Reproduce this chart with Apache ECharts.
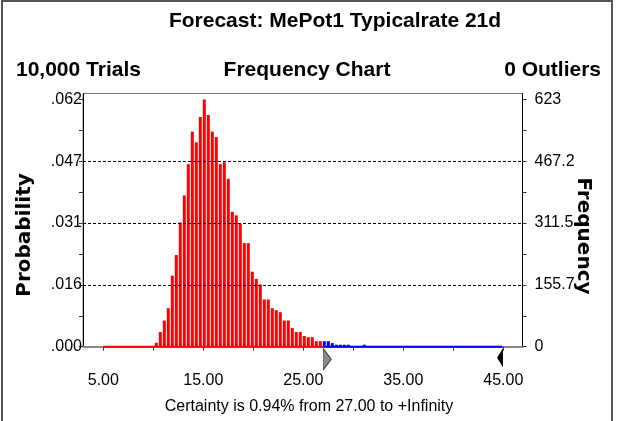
<!DOCTYPE html>
<html>
<head>
<meta charset="utf-8">
<script src="https://cdn.jsdelivr.net/npm/echarts@6/dist/echarts.min.js"></script>
<style>
html,body{margin:0;padding:0;background:#fff;}
#chart{width:634px;height:421px;}
</style>
</head>
<body>
<div id="chart"></div>
<script>
// ---- data ----
const forecastName = 'MePot1 Typicalrate 21d';
const trials = 10000;
const outliers = 0;
const binStart = 10.2;     // lower edge of first non-empty bin
const binWidth = 0.4;
const displayMin = 5.0;
const displayMax = 45.0;
const certaintyFrom = 27.00;
const certaintyPct = 0.94;
// frequencies per bin (bins of 0.4 starting at 10.2)
const redCounts = [10, 37, 66, 97, 179, 231, 313, 381, 460, 542,
                   515, 579, 623, 584, 542, 528, 460, 465, 423, 340,
                   331, 309, 261, 261, 189, 171, 157, 119, 119, 97,
                   92, 87, 66, 66, 47, 37, 37, 27, 24, 24,
                   14, 14];
const blueCounts = [14, 14, 9, 5, 5, 5, 5, 0, 0, 0, 5];
const xLabelValues = [5, 15, 25, 35, 45];
const xTickValues = [5, 10, 15, 20, 25, 30, 35, 40, 45];
const freqTickValues = [0, 155.75, 311.5, 467.25, 623];
const freqTickLabels = ['0', '155.7', '311.5', '467.2', '623'];
const probTickLabels = ['.000', '.016', '.031', '.047', '.062'];
const gridValues = [155.75, 311.5, 467.25];

// ---- build ----
const counts = redCounts.concat(blueCounts);
const RED = '#ff0000', BLUE = '#0000ff';
const barData = counts.map((c, i) => {
  const lo = binStart + i * binWidth;
  return {
    value: [lo + binWidth / 4, c],
    itemStyle: { color: lo >= certaintyFrom - 1e-6 ? BLUE : RED }
  };
});
const minorTicks = [];
for (let i = 0; i < freqTickValues.length - 1; i++) {
  minorTicks.push(freqTickValues[i]);
  minorTicks.push((freqTickValues[i] + freqTickValues[i + 1]) / 2);
}
minorTicks.push(freqTickValues[freqTickValues.length - 1]);
const labelIdx = v => freqTickValues.findIndex(t => Math.abs(t - v) < 1e-6);

const FONT = '"Liberation Sans", Arial, sans-serif';
const AXFONT = '"DejaVu Sans", Verdana, sans-serif';

const chart = echarts.init(document.getElementById('chart'), null, { renderer: 'canvas' });
const yMax = 638;
const yBase = {
  type: 'value', min: 0, max: yMax,
  splitLine: { show: false },
  axisLine: { show: true, lineStyle: { color: '#000', width: 1 } },
  axisTick: { show: true, length: 4, customValues: minorTicks, lineStyle: { color: '#333' } },
};
chart.setOption({
  animation: false,
  backgroundColor: '#fff',
  grid: { left: 83, right: 111.5, top: 93.5, bottom: 74.3, show: true, borderColor: '#777', borderWidth: 1, backgroundColor: 'transparent' },
  xAxis: {
    type: 'value', min: 2.97, max: 46.92,
    splitLine: { show: false },
    axisLine: { show: true, lineStyle: { color: '#888', width: 2 } },
    axisTick: { show: true, length: 4, customValues: xTickValues, lineStyle: { color: '#333' } },
    axisLabel: { customValues: xLabelValues, formatter: v => v.toFixed(2), margin: 26,
      fontFamily: FONT, fontSize: 16, color: '#000' }
  },
  yAxis: [
    Object.assign({}, yBase, {
      position: 'left',
      axisLabel: { customValues: freqTickValues, margin: 1, fontFamily: FONT, fontSize: 16, color: '#000',
        formatter: v => probTickLabels[labelIdx(v)] }
    }),
    Object.assign({}, yBase, {
      position: 'right',
      axisLabel: { customValues: freqTickValues, margin: 12, fontFamily: FONT, fontSize: 16, color: '#000',
        formatter: v => freqTickLabels[labelIdx(v)] }
    })
  ],
  series: [
    {
      type: 'bar', name: 'freq', yAxisIndex: 1, barWidth: 3,
      data: barData,
      markLine: {
        silent: true, symbol: 'none', label: { show: false },
        lineStyle: { color: '#000', type: [3, 2], width: 1 },
        data: gridValues.map(v => ({ yAxis: v }))
      },
      markPoint: {
        silent: true, label: { show: false },
        data: [
          { coord: [certaintyFrom, 0], symbol: 'path://M0,0 L8,10.5 L0,21 Z', symbolSize: [8, 21], symbolOffset: [4, 12.5], symbolKeepAspect: false,
            itemStyle: { color: '#8c8c8c', borderColor: '#444', borderWidth: 1 } },
          { coord: [displayMax, 0], symbol: 'path://M6,0 L0,9.5 L6,19 Z', symbolSize: [6, 19], symbolOffset: [-3.3, 11], symbolKeepAspect: false,
            itemStyle: { color: '#000' } }
        ]
      }
    },
    {
      type: 'line', yAxisIndex: 1, clip: false, symbol: 'none', silent: true,
      lineStyle: { color: RED, width: 2 },
      data: [[displayMin, 0], [certaintyFrom, 0]]
    },
    {
      type: 'line', yAxisIndex: 1, clip: false, symbol: 'none', silent: true,
      lineStyle: { color: BLUE, width: 2 },
      data: [[certaintyFrom, 0], [displayMax - 0.1, 0]]
    }
  ],
  graphic: [
    { type: 'rect', shape: { x: 2, y: 1, width: 610, height: 440 }, style: { fill: 'none', stroke: '#555', lineWidth: 2 }, z: 10 },
    { type: 'text', x: 335, y: 21, style: { text: 'Forecast: ' + forecastName, fontFamily: FONT, fontWeight: 'bold', fontSize: 21, fill: '#000', align: 'center', verticalAlign: 'middle' } },
    { type: 'text', x: 16, y: 70, style: { text: trials.toLocaleString('en-US') + ' Trials', fontFamily: FONT, fontWeight: 'bold', fontSize: 21, fill: '#000', align: 'left', verticalAlign: 'middle' } },
    { type: 'text', x: 307, y: 70, style: { text: 'Frequency Chart', fontFamily: FONT, fontWeight: 'bold', fontSize: 21, fill: '#000', align: 'center', verticalAlign: 'middle' } },
    { type: 'text', x: 601, y: 70, style: { text: outliers + ' Outliers', fontFamily: FONT, fontWeight: 'bold', fontSize: 21, fill: '#000', align: 'right', verticalAlign: 'middle' } },
    { type: 'text', x: 25, y: 235, rotation: Math.PI / 2, style: { text: 'Probability', fontFamily: AXFONT, fontWeight: 'bold', fontSize: 20, fill: '#000', align: 'center', verticalAlign: 'middle' } },
    { type: 'text', x: 583, y: 236, rotation: -Math.PI / 2, style: { text: 'Frequency', fontFamily: AXFONT, fontWeight: 'bold', fontSize: 20, fill: '#000', align: 'center', verticalAlign: 'middle' } },
    { type: 'text', x: 309, y: 407, style: { text: 'Certainty is ' + certaintyPct.toFixed(2) + '% from ' + certaintyFrom.toFixed(2) + ' to +Infinity', fontFamily: FONT, fontSize: 16, fill: '#000', align: 'center', verticalAlign: 'middle' } }
  ]
});
</script>
</body>
</html>
